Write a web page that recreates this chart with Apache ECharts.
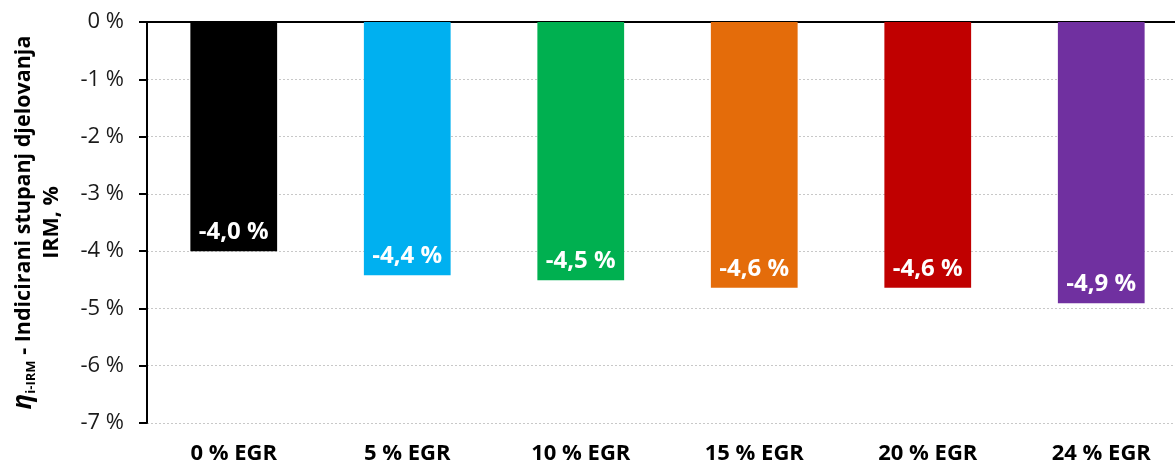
<!DOCTYPE html>
<html>
<head>
<meta charset="utf-8">
<script src="https://cdn.jsdelivr.net/npm/echarts@6/dist/echarts.min.js"></script>
<style>
  html, body { margin: 0; padding: 0; background: #fff; }
  #chart { width: 1175px; height: 468px; }
</style>
</head>
<body>
<div id="chart"></div>
<script>
var categories = ['0 % EGR', '5 % EGR', '10 % EGR', '15 % EGR', '20 % EGR', '24 % EGR'];
var values = [-4.0, -4.42, -4.51, -4.64, -4.64, -4.91];
var colors = ['#000000', '#00B0F0', '#00B050', '#E46C0A', '#C00000', '#7030A0'];

var font = 'Open Sans';

var chart = echarts.init(document.getElementById('chart'));

var barData = [];
for (var i = 0; i < values.length; i++) {
  barData.push({ value: values[i], itemStyle: { color: colors[i] } });
}

chart.setOption({
  animation: false,
  grid: { left: 147, right: -13, top: 22, bottom: 45, containLabel: false, outerBoundsMode: 'none' },
  xAxis: [{
    type: 'category',
    data: categories,
    position: 'bottom',
    axisLine: { show: false, onZero: false },
    axisTick: { show: false },
    axisLabel: {
      margin: 20,
      color: '#000',
      fontFamily: font,
      fontWeight: 'bold',
      fontSize: 22
    }
  }, {
    type: 'category',
    data: categories,
    position: 'top',
    axisLine: { show: true, onZero: false, lineStyle: { color: '#000', width: 2 } },
    axisTick: { show: false },
    axisLabel: { show: false }
  }],
  yAxis: {
    type: 'value',
    min: -7,
    max: 0,
    interval: 1,
    axisLine: { show: true, lineStyle: { color: '#000', width: 2 } },
    axisTick: { show: true, inside: false, length: 8, lineStyle: { color: '#000', width: 2 } },
    splitLine: { show: true, lineStyle: { color: '#c8c8c8', type: [2, 2], width: 1 } },
    axisLabel: {
      margin: 23,
      color: '#1a1a1a',
      fontFamily: font,
      fontSize: 22,
      formatter: function (v) { return v + ' %'; }
    },
    name: '{eta|η}{sub|i-IRM}{t| - Indicirani stupanj djelovanja}\n{t|IRM, %}',
    nameLocation: 'middle',
    nameRotate: 90,
    nameGap: 81,
    nameTextStyle: {
      color: '#000',
      fontFamily: font,
      align: 'center',
      rich: {
        eta: { fontFamily: font, fontStyle: 'italic', fontWeight: 'bold', fontSize: 26, color: '#000', lineHeight: 28 },
        sub: { fontFamily: font, fontWeight: 'bold', fontSize: 13, color: '#000', verticalAlign: 'bottom', lineHeight: 28, padding: [8, 0, 0, 0] },
        t: { fontFamily: font, fontWeight: 'bold', fontSize: 21.5, color: '#000', lineHeight: 28 }
      }
    }
  },
  series: [{
    type: 'bar',
    data: barData,
    barWidth: '50%',
    label: {
      show: true,
      position: 'insideBottom',
      distance: 7,
      color: '#fff',
      fontFamily: font,
      fontWeight: 'bold',
      fontSize: 24,
      formatter: function (p) { return p.value.toFixed(1).replace('.', ',') + ' %'; }
    }
  }]
});
</script>
</body>
</html>
